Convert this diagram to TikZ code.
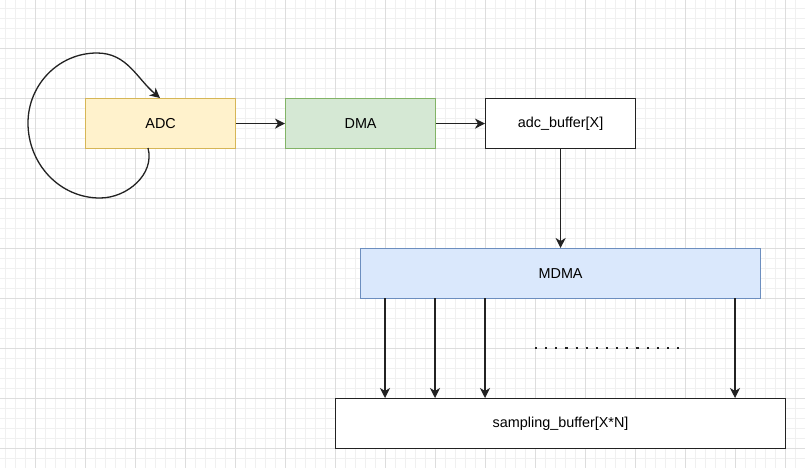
\documentclass[tikz,border=0pt]{standalone}
\usepackage{fontspec}
\setmainfont{Liberation Sans}
\usetikzlibrary{arrows.meta}
\definecolor{minorg}{HTML}{F0F0F0}
\definecolor{majorg}{HTML}{DDDDDD}
\definecolor{adcfill}{HTML}{FFF2CC}
\definecolor{adcline}{HTML}{D6B656}
\definecolor{dmafill}{HTML}{D5E8D4}
\definecolor{dmaline}{HTML}{82B366}
\definecolor{mdmafill}{HTML}{DAE8FC}
\definecolor{mdmaline}{HTML}{6C8EBF}
\definecolor{ink}{HTML}{222222}
\tikzset{
  blk/.style={draw, line width=1.2pt, minimum height=50pt, inner sep=0pt, font=\fontsize{14.4}{16}\selectfont, anchor=north west},
  conn/.style={draw=ink, line width=1.3pt, -{Stealth[length=10pt,width=10pt,inset=3pt]}},
}
\begin{document}
\begin{tikzpicture}[x=1pt,y=-1pt]
\useasboundingbox (0,0) rectangle (805,468);
\fill[white] (0,0) rectangle (805,468);
\foreach \x in {5,15,...,805} \draw[minorg, line width=0.8pt] (\x,0) -- (\x,468);
\foreach \y in {8,18,...,468} \draw[minorg, line width=0.8pt] (0,\y) -- (805,\y);
\foreach \x in {35,85,...,805} \draw[majorg, line width=0.8pt] (\x,0) -- (\x,468);
\foreach \y in {48,98,...,468} \draw[majorg, line width=0.8pt] (0,\y) -- (805,\y);

\node[blk, fill=adcfill, draw=adcline, minimum width=150pt] (adc) at (85,98) {ADC};
\node[blk, fill=dmafill, draw=dmaline, minimum width=150pt] (dma) at (285,98) {DMA};
\node[blk, fill=white, draw=ink, minimum width=150pt] (buf) at (485,98) {adc\_buffer[X]};
\node[blk, fill=mdmafill, draw=mdmaline, minimum width=400pt] (mdma) at (360,248) {MDMA};
\node[blk, fill=white, draw=ink, minimum width=450pt] (samp) at (335,398) {sampling\_buffer[X*N]};

\draw[conn] (adc.east) -- (dma.west);
\draw[conn] (dma.east) -- (buf.west);
\draw[conn] (buf.south) -- (buf.south |- mdma.north);

\foreach \xx [count=\i] in {385,435,485,735}{
  \coordinate (t\i) at (\xx,298);
  \coordinate (b\i) at (\xx,398);
  \draw[conn] (t\i) -- (b\i);
}

\coordinate (ds) at (535,348);
\coordinate (de) at (679,348);
\draw[line width=2.2pt, draw=ink, dash pattern=on 2.2pt off 7.94pt, line cap=butt] (ds) -- (de);

\coordinate (ls) at (148,148);
\coordinate (lb) at (100,198);
\coordinate (ll) at (28,123);
\coordinate (lt) at (97,53);
\coordinate (le) at (160,98);
\draw[conn] (ls) to[out=-75,in=0] (lb) to[out=180,in=-90] (ll) to[out=90,in=180] (lt) to[out=0,in=140] (le);
\end{tikzpicture}
\end{document}
